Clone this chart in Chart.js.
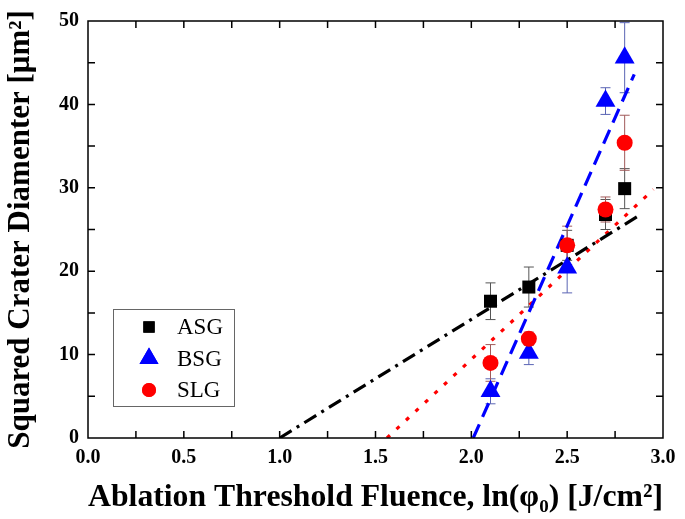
<!DOCTYPE html>
<html>
<head>
<meta charset="utf-8">
<script src="https://cdn.jsdelivr.net/npm/chart.js@4.4.1/dist/chart.umd.min.js"></script>
<style>
  html, body { margin: 0; padding: 0; background: #fff; }
  #wrap { width: 685px; height: 519px; }
</style>
</head>
<body>
<div id="wrap"><canvas id="grafico"></canvas></div>
<script>
// dados
const fluence = [2.1, 2.3, 2.5, 2.7, 2.8]

const asg = [16.4, 18.1, 23.1, 26.8, 29.9]
const asgErr = [2.2, 2.4, 1.8, 1.8, 2.4]
const bsg = [5.6, 10.2, 20.4, 40.4, 45.6]
const bsgErr = [1.5, 1.4, 3.0, 1.6, 4.2]
const slg = [9.0, 11.9, 23.1, 27.4, 35.4]
const slgErr = [2.2, 0.8, 2.3, 1.5, 3.3]

// retas de ajuste (pontos extremos)
const asgFitX = [1.0, 2.87]
const asgFitY = [0, 26.6]
const bsgFitX = [2.01, 2.85]
const bsgFitY = [0, 43.6]
const slgFitX = [1.56, 2.95]
const slgFitY = [0, 29.8]

const xTicks = [0, 0.5, 1.0, 1.5, 2.0, 2.5, 3.0]
const yTicks = [0, 10, 20, 30, 40, 50]

const serif = "'Liberation Serif', 'Times New Roman', serif"

const pts = (xs, ys) => xs.map((x, i) => ({ x, y: ys[i] }))

const series = [
  { label: 'ASG', y: asg, err: asgErr, color: '#000000', errColor: '#555555', style: 'rect', r: 9.2 },
  { label: 'BSG', y: bsg, err: bsgErr, color: '#0000ff', errColor: '#5a64b4', style: 'triangle', r: 11.5 },
  { label: 'SLG', y: slg, err: slgErr, color: '#ff0000', errColor: '#a05a5a', style: 'circle', r: 8 }
]

const ctx = document.getElementById('grafico')

const fits = [
  { data: pts(asgFitX, asgFitY), borderColor: '#000', borderDash: [14, 6, 3, 6] },
  { data: pts(bsgFitX, bsgFitY), borderColor: '#0000ff', borderDash: [15, 8] },
  { data: pts(slgFitX, slgFitY), borderColor: '#ff0000', borderDash: [4, 9] }
].map(f => ({
  type: 'line', data: f.data, borderColor: f.borderColor, borderDash: f.borderDash,
  borderWidth: 3.2, pointRadius: 0, fill: false, order: 5
}))

// ordem de desenho: BSG, ASG, SLG por cima
const drawOrder = { ASG: 2, BSG: 3, SLG: 1 }

const scatterSets = series.map(s => ({
  type: 'scatter',
  label: s.label,
  data: pts(fluence, s.y),
  err: s.err,
  errColor: s.errColor,
  pointStyle: s.style,
  pointRadius: s.r,
  pointHoverRadius: s.r,
  backgroundColor: s.color,
  borderColor: s.color,
  borderWidth: 0,
  order: drawOrder[s.label]
}))

// barras de erro
const errorBars = {
  id: 'errorBars',
  beforeDatasetsDraw(chart) {
    const { ctx, scales: { x, y } } = chart
    ctx.save()
    ctx.lineWidth = 1
    chart.data.datasets.forEach(ds => {
      if (!ds.err) return
      ctx.strokeStyle = ds.errColor
      ds.data.forEach((p, i) => {
        const px = x.getPixelForValue(p.x)
        const top = y.getPixelForValue(p.y + ds.err[i])
        const bot = y.getPixelForValue(p.y - ds.err[i])
        ctx.beginPath()
        ctx.moveTo(px, top); ctx.lineTo(px, bot)
        ctx.moveTo(px - 5, top); ctx.lineTo(px + 5, top)
        ctx.moveTo(px - 5, bot); ctx.lineTo(px + 5, bot)
        ctx.stroke()
      })
    })
    ctx.restore()
  }
}

// moldura com ticks para dentro
const frame = {
  id: 'frame',
  afterDatasetsDraw(chart) {
    const { ctx, chartArea: a, scales: { x, y } } = chart
    ctx.save()
    ctx.strokeStyle = '#000'
    ctx.lineWidth = 1.5
    ctx.strokeRect(a.left, a.top, a.right - a.left, a.bottom - a.top)
    ctx.beginPath()
    for (let v = 0.25; v < 3; v += 0.25) {
      const px = x.getPixelForValue(v)
      ctx.moveTo(px, a.bottom); ctx.lineTo(px, a.bottom - 7)
      ctx.moveTo(px, a.top); ctx.lineTo(px, a.top + 7)
    }
    for (let v = 5; v < 50; v += 5) {
      const py = y.getPixelForValue(v)
      ctx.moveTo(a.left, py); ctx.lineTo(a.left + 7, py)
      ctx.moveTo(a.right, py); ctx.lineTo(a.right - 7, py)
    }
    ctx.stroke()
    ctx.restore()
  }
}

// legenda dentro do gráfico
const insideLegend = {
  id: 'insideLegend',
  afterDraw(chart) {
    const { ctx } = chart
    const box = { x: 113, y: 309, w: 121, h: 97 }
    ctx.save()
    ctx.strokeStyle = '#666'
    ctx.lineWidth = 1
    ctx.strokeRect(box.x + 0.5, box.y + 0.5, box.w, box.h)
    ctx.font = '23px ' + serif
    ctx.textBaseline = 'middle'
    const sizes = { rect: 8, triangle: 11, circle: 7 }
    series.forEach((s, i) => {
      const cy = box.y + 18 + i * 31.5
      ctx.fillStyle = s.color
      Chart.helpers.drawPoint(ctx, { pointStyle: s.style, radius: sizes[s.style], rotation: 0, borderWidth: 0 }, 149, cy)
      ctx.fill()
      ctx.fillStyle = '#000'
      ctx.fillText(s.label, 177, cy + 1)
    })
    ctx.restore()
  }
}

const graph = new Chart(ctx, {
  data: { datasets: [...scatterSets, ...fits] },
  options: {
    responsive: true,
    maintainAspectRatio: false,
    animation: false,
    layout: { padding: { left: 0, right: 22, top: 13, bottom: 0 } },
    plugins: {
      legend: { display: false },
      tooltip: { enabled: false }
    },
    scales: {
      x: {
        type: 'linear',
        min: 0, max: 3,
        afterBuildTicks: s => { s.ticks = xTicks.map(v => ({ value: v })) },
        afterFit: s => { s.height = 81 },
        grid: { display: false, drawTicks: false },
        border: { display: false },
        ticks: {
          padding: 8,
          color: '#000',
          font: { family: serif, size: 20, weight: 'bold' },
          callback: v => v.toFixed(1)
        },
        title: {
          display: true,
          text: 'Ablation Threshold Fluence, ln(φ₀) [J/cm²]',
          color: '#000',
          font: { family: serif, size: 32, weight: 'bold' },
          padding: { top: 0, bottom: 2 }
        }
      },
      y: {
        type: 'linear',
        min: 0, max: 50,
        afterBuildTicks: s => { s.ticks = yTicks.map(v => ({ value: v })) },
        afterFit: s => { s.width = 88 },
        grid: { display: false, drawTicks: false },
        border: { display: false },
        ticks: {
          padding: 9,
          color: '#000',
          font: { family: serif, size: 20, weight: 'bold' }
        },
        title: {
          display: true,
          text: 'Squared Crater Diamenter [μm²]',
          color: '#000',
          font: { family: serif, size: 31, weight: 'bold' },
          padding: { top: 2, bottom: 0 }
        }
      }
    }
  },
  plugins: [errorBars, frame, insideLegend]
})
</script>
</body>
</html>
